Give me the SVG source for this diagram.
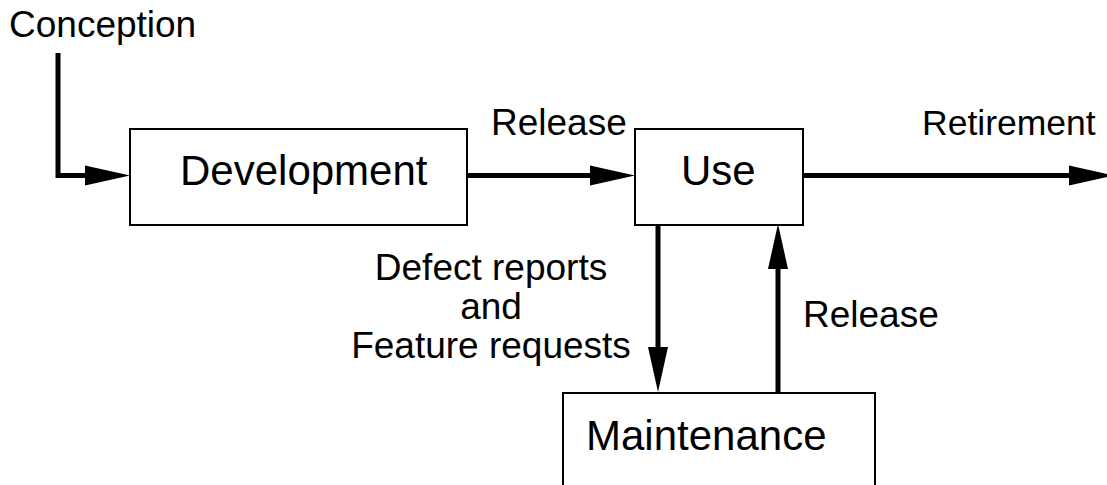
<svg xmlns="http://www.w3.org/2000/svg" width="1107" height="485" viewBox="0 0 1107 485">
  <style>
    .box { fill: #fff; stroke: #000; stroke-width: 2; }
    .flow { fill: none; stroke: #000; stroke-width: 5; marker-end: url(#head); }
    .name { font-family: "Liberation Sans", Arial, sans-serif; font-size: 42px; fill: #000; }
    .label { font-family: "Liberation Sans", Arial, sans-serif; font-size: 37px; fill: #000; }
  </style>
  <defs>
    <marker id="head" markerUnits="userSpaceOnUse" markerWidth="46" markerHeight="22" refX="0" refY="10" orient="auto" overflow="visible">
      <path d="M0,0 L45,10 L0,20 Z" fill="#000"/>
    </marker>
  </defs>
  <rect width="1107" height="485" fill="#fff"/>

  <!-- lifecycle stages -->
  <g id="development">
    <rect class="box" x="130" y="129" width="337" height="96"/>
    <text class="name" x="180" y="185">Development</text>
  </g>
  <g id="use">
    <rect class="box" x="635" y="129" width="168" height="96"/>
    <text class="name" x="681" y="185">Use</text>
  </g>
  <g id="maintenance">
    <rect class="box" x="563" y="393" width="312" height="120"/>
    <text class="name" x="586" y="450">Maintenance</text>
  </g>

  <!-- transitions between stages -->
  <g id="connectors">
    <path class="flow" d="M58,53 V175.5 H85"/>
    <path class="flow" d="M467,175.5 H590"/>
    <path class="flow" d="M803,175.5 H1069"/>
    <path class="flow" d="M658,224 V347"/>
    <path class="flow" d="M778,393 V269"/>
  </g>

  <!-- transition labels -->
  <g id="labels">
    <text class="label" x="9" y="37">Conception</text>
    <text class="label" x="491" y="135">Release</text>
    <text class="label" x="922" y="135" style="font-size:35.5px">Retirement</text>
    <text class="label" x="491" y="280" text-anchor="middle">Defect reports</text>
    <text class="label" x="491" y="319" text-anchor="middle">and</text>
    <text class="label" x="491" y="358" text-anchor="middle">Feature requests</text>
    <text class="label" x="803" y="327">Release</text>
  </g>
</svg>
